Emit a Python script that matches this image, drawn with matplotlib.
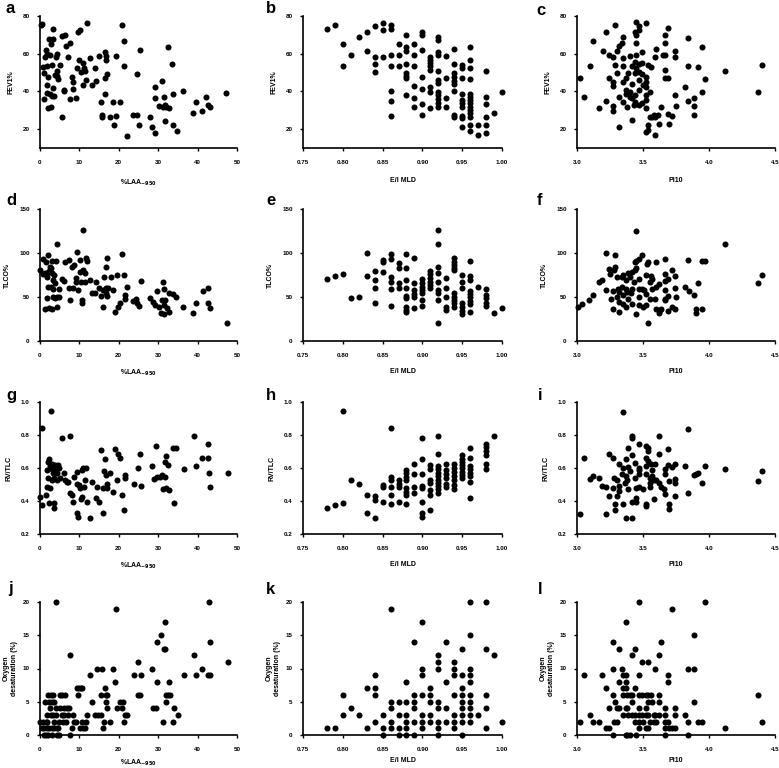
import matplotlib
matplotlib.use("Agg")
import matplotlib.pyplot as plt

plt.rcParams['font.family'] = ['Liberation Sans', 'DejaVu Sans']

# ---------------- data (x, y) per panel ----------------
a_pts = [(0.3,75.2),(0.6,75.5),(3.3,73.2),(2.4,68),(3.2,68),(2.7,65),(1.5,62),(1.9,60),(2.5,59.5),(1.3,58),
         (4.1,58.5),(0.7,53),(1.7,53.5),(3.0,54),(4.2,50.6),(4.4,48),(4.6,46.7),(2.1,47.6),(1.7,43.5),(3.4,42),
         (1.7,39.4),(3.0,37.8),(3.5,37.8),(1.1,35.8),(2.7,32),(2.1,31),(5.7,26.2),(5.1,54.2),(5.5,69.3),(6.3,69.7),
         (6.5,64),(7.6,65.8),(7.2,58.3),(8.0,47.6),(8.4,45),(8.4,41.2),(7.6,36.2),(9.1,36.4),(6.1,40),(9.7,71.6),
         (10.1,72.5),(9.8,56.9),(9.5,52.4),(10.5,50.1),(10.8,55.1),(11.1,52.4),(11.4,50.6),(11.0,43.5),(12.0,76.4),(11.8,45.8),
         (12.7,57.7),(13.1,43.5),(13.9,52.4),(14.2,45.3),(15.0,59),(15.6,34.6),(15.8,27.5),(15.8,26.6),(16.5,60.8),(16.7,58.6),
         (16.7,56.9),(16.6,47.1),(16.9,49.4),(16.5,38.7),(17.7,26.6),(18.6,34.6),(18.8,22.1),(19.4,59),(19.4,27),(20.3,34.6),
         (20.7,75.2),(21.4,66.6),(21.3,53.3),(22.0,16.4),(23.6,27.5),(24.5,27.5),(24.7,49.4),(25.3,61.8),(25.1,22.1),(27.9,26.2),
         (28.4,20.9),(29.2,18),(29.1,36.4),(29.3,42.3),(30.9,45.3),(30.3,32.5),(31.2,31.9),(31.4,36.9),(31.6,32.8),(32.0,31.6),
         (31.8,24.5),(32.5,63.6),(32.7,31.1),(33.6,54.6),(33.8,38.7),(33.8,22.1),(34.7,18.9),(36.2,40),(38.9,28.4),(39.5,34.6),
         (41.0,29.8),(42.2,36.9),(42.6,32.8),(43.1,31.9),(47.3,39),(3.8,48.5),(2.5,38.5),(1.0,50),(6.1,40.6),(4.3,60)]

b_pts = [(0.78,73.3),(0.79,75.4),(0.80,64.9),(0.80,53.4),(0.81,59.2),(0.82,68.6),(0.83,71.6),(0.83,61.3),(0.84,74.7),(0.84,58),
         (0.84,54.8),(0.84,50.1),(0.85,76.3),(0.85,72.8),(0.85,58),(0.86,75.4),(0.86,73.3),(0.86,59.2),(0.86,53.4),(0.86,40.4),
         (0.86,35),(0.86,27.2),(0.87,65.4),(0.87,59.2),(0.87,53.6),(0.88,69.8),(0.88,63.6),(0.88,61.3),(0.88,54.8),(0.88,49.9),
         (0.88,48.2),(0.88,47.3),(0.88,38.1),(0.89,65.4),(0.89,59.2),(0.89,53.6),(0.89,42.9),(0.89,36.4),(0.89,32),(0.90,71.6),
         (0.90,69.8),(0.90,61.9),(0.90,47.4),(0.90,41.1),(0.90,33.2),(0.90,27.6),(0.91,58.4),(0.91,56.6),(0.91,55.2),(0.91,53.4),
         (0.91,51.3),(0.91,42.5),(0.91,39.9),(0.91,31.1),(0.92,68.9),(0.92,67.2),(0.92,61),(0.92,59.2),(0.92,50.8),(0.92,46),
         (0.92,44.3),(0.92,39.9),(0.92,38.1),(0.92,35.8),(0.92,34.1),(0.92,31.6),(0.93,58.7),(0.93,46.9),(0.93,36.7),(0.93,32),
         (0.94,62.4),(0.94,54.8),(0.94,49.9),(0.94,47.8),(0.94,45.5),(0.94,43.9),(0.94,40.4),(0.94,27.6),(0.94,26.7),(0.95,54),
         (0.95,52.5),(0.95,46.9),(0.95,38.5),(0.95,35.5),(0.95,33.7),(0.95,32),(0.95,27),(0.95,25.8),(0.95,21),(0.96,63.6),
         (0.96,56.6),(0.96,52.5),(0.96,46.4),(0.96,38.6),(0.96,37.2),(0.96,35.5),(0.96,33.7),(0.96,32),(0.96,30.2),(0.96,28.4),
         (0.96,26.7),(0.96,22.3),(0.96,19.1),(0.97,22.3),(0.97,16.7),(0.98,50.8),(0.98,37.2),(0.98,33.2),(0.98,26.7),(0.98,22.3),
         (0.98,18.2),(0.99,28.4),(1.00,39.9)]

c_pts = [(3.02,47.3),(3.05,36.8),(3.10,53.6),(3.12,66.9),(3.17,31.3),(3.20,61.6),(3.22,71.7),(3.22,34.9),(3.24,59.3),(3.24,47.3),
         (3.27,58.4),(3.27,45.1),(3.27,42.8),(3.27,32.2),(3.27,29.7),(3.29,75.2),(3.29,54),(3.30,49.9),(3.30,61.4),(3.32,64.2),
         (3.32,21.2),(3.32,37.2),(3.34,65.5),(3.35,69),(3.35,53.5),(3.35,45.1),(3.35,34.5),(3.35,57.9),(3.37,40.7),(3.37,46.9),
         (3.37,38.9),(3.38,31.9),(3.39,49.6),(3.40,58.8),(3.40,39.8),(3.40,37.2),(3.42,44.2),(3.42,53.6),(3.42,36.3),(3.44,38),
         (3.44,34.5),(3.44,71.7),(3.45,69.9),(3.42,24.8),(3.43,32.8),(3.44,49.6),(3.45,59.3),(3.45,65.5),(3.45,76.6),(3.47,74.7),
         (3.47,72.6),(3.44,55.8),(3.47,46),(3.47,40.7),(3.47,32.8),(3.47,54.3),(3.45,52.2),(3.47,50.4),(3.49,61.1),(3.49,54.9),
         (3.49,49.2),(3.50,43.4),(3.49,33.6),(3.52,76.1),(3.52,47.8),(3.52,45.1),(3.52,42.5),(3.52,38),(3.52,35.4),(3.52,31.3),
         (3.52,18.6),(3.54,22.1),(3.54,19.5),(3.54,54),(3.55,39.8),(3.55,26.5),(3.56,53.1),(3.57,26.5),(3.58,27.4),(3.59,58.4),
         (3.59,26.5),(3.59,16.8),(3.60,62.3),(3.61,27.4),(3.62,22.5),(3.64,31.9),(3.65,59.3),(3.67,59.3),(3.67,51.3),(3.67,65.5),
         (3.67,69.9),(3.67,46.9),(3.69,46.9),(3.69,27.8),(3.69,73.8),(3.70,22.5),(3.72,27.1),(3.74,61.6),(3.74,58.4),(3.74,38),
         (3.75,32.2),(3.82,42.5),(3.84,68.5),(3.84,53.6),(3.84,34.9),(3.89,36.3),(3.89,32.4),(3.89,27.4),(3.92,52.7),(3.95,63.7),
         (3.95,39.8),(3.97,46.5),(4.12,50.8),(4.37,39.5),(4.40,54)]

d_pts = [(0,80.7),(0.7,92.8),(0.7,75.8),(1.3,76.9),(1.5,90.2),(1.7,77.3),(2.1,97.7),(1.9,72.3),(2.4,79.9),(2.5,84.5),
         (3.0,91.3),(3.1,77.7),(2.7,82.6),(3.6,75),(3.4,69.3),(3.8,65.5),(2.1,61.7),(2.8,61.7),(3.4,58.7),(4.1,91.3),
         (4.4,109.8),(1.9,49.2),(3.4,50.4),(3.9,48.5),(4.4,50.4),(4.9,49.6),(1.3,36),(2.4,37.1),(3.0,36.4),(4.2,38.3),
         (4.9,59.5),(5.5,70.1),(6.1,68.6),(6.3,90.2),(7.4,92),(7.3,59.8),(7.6,46.6),(8.0,83.7),(8.6,86.4),(8.4,59.8),
         (9.1,71.2),(9.1,67.4),(9.5,101.5),(9.7,58),(10.1,92),(10.1,78.8),(10.4,67.4),(10.6,46.6),(10.6,42.8),(10.8,126.1),
         (11.0,80.7),(11.4,77.7),(11.4,67.4),(11.7,93.9),(12.0,91.3),(12.7,69.3),(13.1,54.2),(13.9,54.2),(14.2,67.4),(15.0,59.8),
         (15.6,51.1),(15.9,58),(16.0,39),(16.2,73.1),(16.7,84.5),(16.9,93.9),(16.7,59.8),(16.7,54.2),(17.1,51.1),(17.3,59.8),
         (18.0,73.1),(18.6,58),(19.0,33.3),(19.6,75),(19.7,39),(20.3,42.8),(20.7,98.9),(21.4,75),(21.5,52.3),(21.5,47.3),
         (22.1,61),(23.6,45.8),(24.3,47.3),(24.7,43.6),(25.1,39.8),(25.6,68.6),(28.0,48.5),(28.7,43.9),(29.1,40.9),(29.6,57.2),
         (30.2,38.3),(30.6,32.2),(31.0,46.6),(31.3,67.4),(31.4,58.7),(31.4,30.7),(31.5,40.9),(31.8,46.6),(32.3,37.9),(32.7,33.3),
         (32.7,54.2),(33.8,53.4),(34.6,49.6),(36.3,39),(38.9,32.2),(39.7,43.6),(41.4,56.8),(42.6,59.8),(42.6,43.6),(43.2,37.1),
         (47.5,20.1)]

e_pts = [(0.78,70.1),(0.79,74.2),(0.80,76.1),(0.81,48.5),(0.82,50.4),(0.83,100.4),(0.83,74.2),(0.84,79.9),(0.84,69.3),(0.84,59.8),
         (0.84,42.8),(0.85,92),(0.85,90.2),(0.85,78.8),(0.86,98.9),(0.86,92.8),(0.86,72.3),(0.86,67.4),(0.86,58.7),(0.86,39.8),
         (0.87,89),(0.87,83.3),(0.87,65.5),(0.87,59.8),(0.88,98.5),(0.88,82.6),(0.88,69.3),(0.88,59.8),(0.88,51.1),(0.88,48.5),
         (0.88,39),(0.88,35.2),(0.88,33.3),(0.89,93.9),(0.89,66.3),(0.89,58),(0.89,53.4),(0.89,50.4),(0.89,37.1),(0.90,70.1),
         (0.90,65.5),(0.90,61.7),(0.90,58),(0.90,54.2),(0.90,46.6),(0.90,39.8),(0.91,79.5),(0.91,76.1),(0.91,72),(0.91,67.4),
         (0.91,63.6),(0.91,59.8),(0.92,126.1),(0.92,109.8),(0.92,83.7),(0.92,76.9),(0.92,67.4),(0.92,58),(0.92,54.2),(0.92,46.6),
         (0.92,20.8),(0.93,71.2),(0.93,60.6),(0.93,50.4),(0.93,39),(0.93,35.2),(0.94,93.9),(0.94,90.2),(0.94,86.4),(0.94,82.6),
         (0.94,80.7),(0.94,54.2),(0.94,50.4),(0.94,46.6),(0.94,42.8),(0.94,39),(0.95,75),(0.95,67.4),(0.95,59.8),(0.95,42.8),
         (0.95,39),(0.95,34.5),(0.95,30.7),(0.96,90.9),(0.96,73.9),(0.96,69.3),(0.96,57.2),(0.96,53.4),(0.96,49.6),(0.96,45.8),
         (0.96,42),(0.96,33.3),(0.97,61.7),(0.98,59.1),(0.98,52.3),(0.98,48.5),(0.98,43.6),(0.98,39.8),(0.99,32.2),(1.00,37.9)]

f_pts = [(3.01,38.8),(3.04,42.6),(3.09,47.1),(3.12,52),(3.17,67.1),(3.19,69),(3.22,99.9),(3.22,58.4),(3.24,82.2),(3.25,76.5),
         (3.26,48.2),(3.27,36.9),(3.27,56.9),(3.28,80.3),(3.29,98),(3.29,84.1),(3.30,72.7),(3.30,50.1),(3.31,59.6),(3.32,33.2),
         (3.32,44.5),(3.32,55.8),(3.34,72.7),(3.34,61.4),(3.35,74.6),(3.35,52),(3.35,42.6),(3.37,59.6),(3.37,38.8),(3.37,69),
         (3.38,55.8),(3.39,48.2),(3.39,77.3),(3.40,72.7),(3.41,54.7),(3.42,78.4),(3.42,58.8),(3.42,42.6),(3.43,67.1),(3.44,80.3),
         (3.44,89.7),(3.45,125.5),(3.45,30.5),(3.45,83.3),(3.45,90.5),(3.47,93.5),(3.47,59.6),(3.47,50.1),(3.47,40.7),(3.47,70.9),
         (3.49,97.2),(3.49,59.6),(3.50,38.8),(3.51,57.7),(3.52,40.7),(3.52,74.6),(3.52,53.9),(3.53,87.8),(3.54,20),(3.54,89.7),
         (3.55,67.1),(3.55,48.2),(3.56,73.5),(3.57,70.9),(3.57,59.6),(3.59,48.2),(3.60,89.7),(3.60,61.4),(3.60,36.9),(3.62,32),
         (3.62,65.2),(3.63,35.1),(3.64,36.9),(3.67,93.5),(3.67,76.5),(3.67,67.8),(3.67,57.7),(3.67,48.2),(3.67,46.4),(3.69,50.9),
         (3.69,70.9),(3.69,34.3),(3.72,80.3),(3.72,38.8),(3.74,73.5),(3.74,60.3),(3.75,50.1),(3.74,36.9),(3.82,61.4),(3.84,92.3),
         (3.85,56.9),(3.89,52),(3.90,35.8),(3.90,32),(3.92,66),(3.95,90.5),(3.95,36.9),(3.97,90.8),(4.12,109.7),(4.37,66),
         (4.40,74.6)]

g_pts = [(0,0.426),(0.4,0.375),(0.6,0.845),(1.5,0.436),(1.7,0.486),(1.9,0.587),(2.1,0.637),(2.1,0.537),(2.4,0.653),(2.5,0.611),
         (2.5,0.476),(2.3,0.385),(3.0,0.623),(3.0,0.526),(2.7,0.946),(3.1,0.591),(3.4,0.571),(3.5,0.537),(3.6,0.385),(3.6,0.355),
         (3.8,0.617),(4.1,0.591),(4.2,0.526),(4.4,0.567),(4.6,0.621),(4.9,0.601),(5.2,0.537),(5.5,0.784),(6.1,0.567),(6.3,0.530),
         (6.8,0.516),(7.2,0.516),(7.6,0.794),(7.6,0.446),(8.0,0.436),(8.4,0.395),(8.6,0.547),(9.3,0.577),(9.3,0.506),(9.5,0.325),
         (9.7,0.305),(9.9,0.496),(10.1,0.476),(10.4,0.412),(10.6,0.587),(10.6,0.426),(11.0,0.603),(11.1,0.482),(11.4,0.526),(11.8,0.597),
         (12.0,0.395),(12.7,0.295),(13.3,0.516),(14.2,0.416),(14.5,0.482),(15.0,0.395),(15.6,0.708),(15.9,0.476),(16.0,0.325),(16.3,0.583),
         (16.5,0.653),(16.7,0.557),(16.9,0.502),(17.1,0.476),(17.7,0.567),(18.6,0.456),(19.0,0.718),(19.6,0.526),(19.8,0.684),(20.4,0.663),
         (20.9,0.436),(21.4,0.345),(21.5,0.557),(21.5,0.537),(23.9,0.506),(24.9,0.603),(25.3,0.684),(25.6,0.490),(28.5,0.611),(29.4,0.734),
         (28.9,0.532),(29.6,0.543),(30.4,0.547),(31.0,0.557),(31.3,0.470),(31.7,0.547),(31.8,0.637),(31.9,0.672),(32.1,0.476),(32.5,0.617),
         (32.8,0.466),(33.8,0.724),(34.0,0.385),(34.6,0.724),(36.5,0.593),(39.1,0.794),(39.7,0.613),(41.2,0.663),(42.7,0.744),(42.7,0.663),
         (42.9,0.567),(43.2,0.482),(47.6,0.567)]

h_pts = [(0.78,0.355),(0.79,0.375),(0.80,0.946),(0.80,0.385),(0.81,0.526),(0.82,0.502),(0.83,0.436),(0.83,0.325),(0.84,0.430),(0.84,0.405),
         (0.84,0.295),(0.85,0.496),(0.85,0.482),(0.85,0.395),(0.86,0.845),(0.86,0.547),(0.86,0.530),(0.86,0.482),(0.86,0.436),(0.86,0.381),
         (0.87,0.526),(0.87,0.506),(0.87,0.482),(0.87,0.391),(0.88,0.587),(0.88,0.567),(0.88,0.547),(0.88,0.526),(0.88,0.476),(0.88,0.456),
         (0.88,0.436),(0.88,0.381),(0.89,0.623),(0.89,0.563),(0.89,0.482),(0.89,0.446),(0.90,0.784),(0.90,0.653),(0.90,0.563),(0.90,0.490),
         (0.90,0.476),(0.90,0.391),(0.90,0.325),(0.90,0.305),(0.91,0.617),(0.91,0.591),(0.91,0.530),(0.91,0.510),(0.91,0.466),(0.91,0.436),
         (0.91,0.345),(0.92,0.794),(0.92,0.684),(0.92,0.611),(0.92,0.591),(0.92,0.571),(0.92,0.551),(0.92,0.530),(0.92,0.510),(0.92,0.490),
         (0.92,0.470),(0.92,0.450),(0.93,0.623),(0.93,0.587),(0.93,0.563),(0.93,0.537),(0.93,0.506),(0.93,0.482),(0.94,0.623),(0.94,0.603),
         (0.94,0.577),(0.94,0.551),(0.94,0.526),(0.94,0.496),(0.94,0.470),(0.95,0.678),(0.95,0.657),(0.95,0.637),(0.95,0.617),(0.95,0.597),
         (0.95,0.577),(0.95,0.557),(0.95,0.537),(0.96,0.722),(0.96,0.663),(0.96,0.611),(0.96,0.591),(0.96,0.571),(0.96,0.551),(0.96,0.516),
         (0.96,0.416),(0.98,0.748),(0.98,0.728),(0.98,0.704),(0.98,0.678),(0.98,0.627),(0.98,0.591),(0.99,0.794)]

i_pts = [(3.02,0.321),(3.05,0.662),(3.10,0.532),(3.12,0.552),(3.17,0.542),(3.19,0.491),(3.22,0.485),(3.22,0.321),(3.24,0.686),(3.24,0.431),
         (3.27,0.662),(3.27,0.477),(3.28,0.542),(3.29,0.381),(3.29,0.345),(3.30,0.431),(3.30,0.526),(3.32,0.491),(3.32,0.461),(3.32,0.622),
         (3.34,0.566),(3.35,0.940),(3.35,0.381),(3.35,0.602),(3.36,0.512),(3.37,0.652),(3.37,0.552),(3.37,0.294),(3.38,0.526),(3.39,0.471),
         (3.39,0.723),(3.39,0.606),(3.40,0.582),(3.42,0.678),(3.42,0.793),(3.42,0.783),(3.42,0.391),(3.42,0.300),(3.44,0.632),(3.44,0.542),
         (3.45,0.477),(3.45,0.421),(3.45,0.391),(3.47,0.743),(3.47,0.602),(3.47,0.586),(3.47,0.566),(3.47,0.485),(3.50,0.471),(3.52,0.612),
         (3.52,0.733),(3.52,0.658),(3.52,0.562),(3.52,0.381),(3.52,0.371),(3.54,0.723),(3.54,0.703),(3.54,0.642),(3.55,0.542),(3.55,0.512),
         (3.55,0.485),(3.56,0.622),(3.57,0.586),(3.57,0.552),(3.58,0.411),(3.58,0.526),(3.59,0.622),(3.60,0.526),(3.62,0.793),(3.62,0.682),
         (3.62,0.512),(3.64,0.485),(3.66,0.471),(3.67,0.592),(3.67,0.562),(3.67,0.441),(3.69,0.713),(3.69,0.618),(3.70,0.522),(3.70,0.381),
         (3.70,0.351),(3.72,0.606),(3.74,0.622),(3.74,0.532),(3.74,0.431),(3.74,0.512),(3.82,0.612),(3.84,0.839),(3.84,0.451),(3.89,0.556),
         (3.90,0.566),(3.92,0.572),(3.95,0.512),(3.97,0.612),(4.12,0.592),(4.37,0.522),(4.40,0.582)]

j_pts = [(0,2),(0.4,1),(0.7,2),(1.0,0),(1.1,1),(1.3,5),(1.4,2),(1.5,0),(1.7,1),(1.9,3),
         (1.9,2),(2.1,6),(2.1,0),(2.4,5),(2.4,1),(2.5,4),(2.7,6),(2.8,3),(3.0,5),(3.0,1),
         (3.0,0),(3.2,6),(3.4,3),(3.5,5),(3.6,2),(3.6,1),(4.0,20),(4.1,4),(4.1,3),(4.2,1),
         (4.2,0),(4.6,1),(4.8,0),(4.9,2),(5.1,6),(5.2,4),(5.7,6),(5.7,3),(5.9,2),(6.1,4),
         (6.2,3),(6.3,6),(6.6,2),(6.9,4),(7.2,3),(7.4,4),(7.6,12),(7.6,0),(8.0,1),(8.4,3),
         (8.6,2),(9.1,2),(9.5,7),(9.7,6),(9.8,7),(10.1,1),(10.3,7),(10.6,2),(10.7,7),(10.8,1),
         (11.4,1),(11.7,2),(12.0,3),(12.7,9),(13.1,5),(13.9,3),(14.4,10),(14.8,3),(15.6,3),(15.8,10),
         (15.6,6),(15.9,1),(16.2,2),(16.5,7),(16.7,6),(16.7,5),(16.9,4),(17.1,6),(17.7,2),(18.6,10),
         (19.0,8),(19.4,19),(19.6,4),(20.4,5),(20.9,4),(21.1,5),(21.4,2),(21.5,3),(22.2,3),(23.9,9),
         (24.9,11),(24.9,6),(25.3,6),(25.6,9),(28.3,10),(28.7,4),(29.4,4),(29.6,14),(29.6,8),(30.7,15),
         (31.3,2),(31.4,13),(31.8,13),(31.8,17),(31.9,5),(32.1,6),(32.5,6),(32.8,8),(33.0,6),(33.8,2),
         (34.0,4),(34.9,3),(36.5,9),(39.1,12),(39.7,9),(41.2,10),(42.7,9),(42.8,20),(43.2,14),(43.2,9),
         (47.6,11)]

k_pts = [(0.78,1),(0.79,1),(0.80,6),(0.80,3),(0.81,4),(0.82,3),(0.83,7),(0.83,1),(0.84,9),(0.84,7),
         (0.84,6),(0.84,2),(0.85,3),(0.85,1),(0.85,0),(0.86,19),(0.86,5),(0.86,4),(0.86,2),(0.86,1),
         (0.87,5),(0.87,3),(0.87,1),(0.87,0),(0.88,8),(0.88,5),(0.88,3),(0.88,2),(0.88,1),(0.88,0),
         (0.89,14),(0.89,6),(0.89,5),(0.89,4),(0.89,2),(0.89,0),(0.90,17),(0.90,10),(0.90,9),(0.90,6),
         (0.90,3),(0.90,2),(0.90,1),(0.91,7),(0.91,6),(0.91,5),(0.91,3),(0.91,2),(0.92,12),(0.92,11),
         (0.92,10),(0.92,5),(0.92,4),(0.92,2),(0.92,1),(0.92,0),(0.93,14),(0.93,8),(0.93,4),(0.93,2),
         (0.94,11),(0.94,10),(0.94,9),(0.94,6),(0.94,3),(0.94,2),(0.94,1),(0.95,13),(0.95,9),(0.95,7),
         (0.95,6),(0.95,5),(0.95,4),(0.95,3),(0.95,2),(0.95,0),(0.96,20),(0.96,15),(0.96,10),(0.96,9),
         (0.96,8),(0.96,6),(0.96,5),(0.96,4),(0.96,3),(0.96,2),(0.97,3),(0.98,20),(0.98,13),(0.98,6),
         (0.98,4),(0.98,1),(0.99,12),(1.00,2)]

l_pts = [(3.02,2),(3.05,9),(3.10,3),(3.12,2),(3.17,2),(3.19,9),(3.22,7),(3.22,1),(3.24,1),(3.24,4),
         (3.27,14),(3.27,10),(3.27,6),(3.27,0),(3.28,2),(3.29,5),(3.30,2),(3.30,4),(3.32,13),(3.32,8),
         (3.32,4),(3.34,10),(3.35,9),(3.35,7),(3.35,6),(3.35,3),(3.37,17),(3.37,9),(3.37,8),(3.37,7),
         (3.37,4),(3.37,0),(3.38,6),(3.38,4),(3.38,0),(3.39,3),(3.40,0),(3.40,6),(3.42,12),(3.42,5),
         (3.42,3),(3.42,6),(3.44,13),(3.44,7),(3.44,3),(3.44,2),(3.45,0),(3.47,20),(3.47,9),(3.47,6),
         (3.47,4),(3.47,3),(3.47,1),(3.47,2),(3.49,11),(3.49,6),(3.49,3),(3.50,2),(3.52,6),(3.52,4),
         (3.52,1),(3.52,3),(3.54,11),(3.54,6),(3.54,5),(3.54,3),(3.54,1),(3.55,2),(3.56,6),(3.57,5),
         (3.58,3),(3.58,2),(3.59,10),(3.59,3),(3.60,2),(3.62,12),(3.62,6),(3.62,5),(3.62,3),(3.64,14),
         (3.67,4),(3.67,3),(3.67,2),(3.67,1),(3.67,0),(3.69,9),(3.69,8),(3.69,2),(3.70,1),(3.72,19),
         (3.72,1),(3.74,4),(3.74,3),(3.74,1),(3.82,3),(3.84,10),(3.84,2),(3.84,0),(3.89,15),(3.89,10),
         (3.89,5),(3.92,2),(3.95,2),(3.97,20),(4.12,1),(4.37,6),(4.40,2)]

panel_points = [[a_pts, b_pts, c_pts], [d_pts, e_pts, f_pts],
                [g_pts, h_pts, i_pts], [j_pts, k_pts, l_pts]]
panel_letters = [['a', 'b', 'c'], ['d', 'e', 'f'], ['g', 'h', 'i'], ['j', 'k', 'l']]

x_labels = [r'%LAA$_{\mathbf{-950}}$', 'E/I MLD', 'Pi10']
x_lims = [(0, 50), (0.75, 1.00), (3.0, 4.5)]
x_ticks = [[0, 10, 20, 30, 40, 50],
           [0.75, 0.80, 0.85, 0.90, 0.95, 1.00],
           [3.0, 3.5, 4.0, 4.5]]
x_ticklabels = [['0', '10', '20', '30', '40', '50'],
                ['0.75', '0.80', '0.85', '0.90', '0.95', '1.00'],
                ['3.0', '3.5', '4.0', '4.5']]

y_labels = ['FEV1%', 'TLCO%', 'RV/TLC', 'Oxygen\ndesaturation (%)']
y_lims = [(10, 80), (0, 150), (0.2, 1.0), (0, 20)]
y_ticks = [[20, 40, 60, 80], [0, 50, 100, 150],
           [0.2, 0.4, 0.6, 0.8, 1.0], [0, 5, 10, 15, 20]]
y_ticklabels = [['20', '40', '60', '80'], ['0', '50', '100', '150'],
                ['0.2', '0.4', '0.6', '0.8', '1.0'], ['0', '5', '10', '15', '20']]

# ---------------- layout (pixels) ----------------
W, H = 779, 768
col_px = [(40, 237), (303, 502), (577, 775)]
row_px = [(16, 148), (209, 341), (402, 534), (602, 735)]
xlabel_pad = [9, 7, 7, 4]
ylabel_pad = [6, 6, 6, 3]
letter_pos = [[(6, 13), (266, 13), (536, 15)],
              [(6, 205), (266, 205), (537, 205)],
              [(6, 400), (266, 400), (538, 400)],
              [(8, 593), (266, 594), (538, 594)]]

fig = plt.figure(figsize=(W / 100, H / 100), dpi=100)

for r in range(4):
    for c in range(3):
        l, rr = col_px[c]
        t, b = row_px[r]
        ax = fig.add_axes([l / W, 1 - b / H, (rr - l) / W, (b - t) / H])
        pts = panel_points[r][c]
        xs = [p[0] for p in pts]
        ys = [p[1] for p in pts]
        ax.scatter(xs, ys, s=19, color='black', linewidths=0, clip_on=False, zorder=3)
        ax.set_xlim(*x_lims[c])
        ax.set_ylim(*y_lims[r])
        ax.set_xticks(x_ticks[c])
        ax.set_xticklabels(x_ticklabels[c])
        ax.set_yticks(y_ticks[r])
        ax.set_yticklabels(y_ticklabels[r])
        for s in ['top', 'right']:
            ax.spines[s].set_visible(False)
        for s in ['left', 'bottom']:
            ax.spines[s].set_linewidth(1.2)
        ax.tick_params(axis='x', direction='out', length=2.5, width=1.0,
                       labelsize=4.5, pad=6)
        ax.tick_params(axis='y', direction='out', length=2.5, width=1.0,
                       labelsize=4.5, pad=5)
        for lab in ax.get_xticklabels() + ax.get_yticklabels():
            lab.set_fontweight('bold')
        ax.set_xlabel(x_labels[c], fontsize=5, fontweight='bold', labelpad=xlabel_pad[r])
        ax.set_ylabel(y_labels[r], fontsize=5, fontweight='bold', labelpad=ylabel_pad[r],
                      linespacing=1.3)
        lx, ly = letter_pos[r][c]
        fig.text(lx / W, 1 - ly / H, panel_letters[r][c], fontsize=12,
                 fontweight='bold', ha='left', va='baseline')

fig.savefig('out.png', dpi=100)
